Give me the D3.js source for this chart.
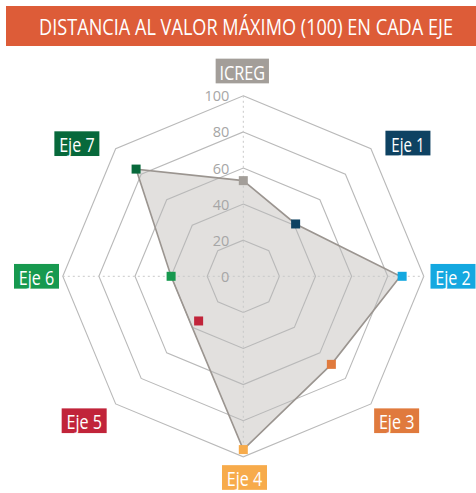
<!DOCTYPE html>
<html>
<head>
<meta charset="utf-8">
<script src="https://cdn.jsdelivr.net/npm/d3@7"></script>
<style>
  html, body { margin: 0; padding: 0; background: #fff; }
  svg { display: block; }
</style>
</head>
<body>
<svg id="chart" width="476" height="493"></svg>
<script>
// Axes of the radar, clockwise from the top
const axes = ["ICREG", "Eje 1", "Eje 2", "Eje 3", "Eje 4", "Eje 5", "Eje 6", "Eje 7"];
// Marker value on each axis
const scores = [53, 41, 88, 69, 96, 35, 40, 84];
// Vertices of the shaded area
const outline = [53, 41, 87, 69, 96, 40, 40, 84];
// Radial grid levels and their tick labels
const gridLevels = [20, 40, 60, 80, 100];
const tickLabels = [0, 20, 40, 60, 80, 100];
// Colour of each axis label and marker
const axisColors = ["#a39e99", "#0e4262", "#14a8e0", "#e07a3d", "#f7ab4b", "#c1243a", "#17994f", "#07693b"];

const title = "DISTANCIA AL VALOR MÁXIMO (100) EN CADA EJE";

const svg = d3.select("#chart");
const cx = 243.3, cy = 276.3, R = 180.5;
const font = "'Liberation Sans Narrow', 'Open Sans', 'DejaVu Sans', sans-serif";

const r = d3.scaleLinear().domain([0, 100]).range([0, R]);
const angle = d3.scalePoint().domain(axes).range([0, 2 * Math.PI * 7 / 8]);
const pt = (name, v) => {
  const a = angle(name) - Math.PI / 2;
  return [cx + r(v) * Math.cos(a), cy + r(v) * Math.sin(a)];
};

// Horizontally squeeze a text to a target width, keeping its height
function condense(sel, targetWidth) {
  const w = sel.node().getComputedTextLength();
  const k = w > 0 ? targetWidth / w : 1;
  const x = +sel.attr("x");
  sel.attr("transform", `translate(${x * (1 - k)},0) scale(${k},1)`);
}

// Title bar
svg.append("rect").attr("x", 6).attr("y", 6).attr("width", 470).attr("height", 40)
  .attr("fill", "#dd5c38");
const t = svg.append("text").attr("x", 246).attr("y", 26)
  .attr("text-anchor", "middle").attr("dominant-baseline", "central")
  .attr("font-family", font).attr("font-size", 22).attr("fill", "#fff")
  .text(title);
condense(t, 414);

// Shaded area
const line = d3.line().curve(d3.curveLinearClosed);
const areaPts = axes.map((a, i) => pt(a, outline[i]));
svg.append("path").attr("d", line(areaPts)).attr("fill", "#e2e0de").attr("stroke", "none");

// Grid polygons
svg.append("g").selectAll("path").data(gridLevels).join("path")
  .attr("d", lv => line(axes.map(a => pt(a, lv))))
  .attr("fill", "none").attr("stroke", "#b9b9b9").attr("stroke-width", 1.1);

// Dotted vertical and horizontal spokes
const spoke = (a, b) => {
  const p = pt(a, 100), q = pt(b, 100);
  svg.append("line").attr("x1", p[0]).attr("y1", p[1]).attr("x2", q[0]).attr("y2", q[1])
    .attr("stroke", "#c9c9c9").attr("stroke-width", 1).attr("stroke-dasharray", "2,3");
};
spoke("ICREG", "Eje 4");
spoke("Eje 6", "Eje 2");

// Area outline
svg.append("path").attr("d", line(areaPts)).attr("fill", "none")
  .attr("stroke", "#9b9590").attr("stroke-width", 1.6).attr("stroke-linejoin", "miter");

// Tick labels along the top axis
svg.append("g").selectAll("text").data(tickLabels).join("text")
  .attr("x", cx - 14).attr("y", d => cy - r(d))
  .attr("text-anchor", "end").attr("dominant-baseline", "central")
  .attr("font-family", "'Open Sans', sans-serif").attr("font-size", 14.5)
  .attr("fill", "#a6a6a6").text(d => d);

// Markers
const ms = 9;
svg.append("g").selectAll("rect").data(axes).join("rect")
  .attr("x", (a, i) => pt(a, scores[i])[0] - ms / 2)
  .attr("y", (a, i) => pt(a, scores[i])[1] - ms / 2)
  .attr("width", ms).attr("height", ms)
  .attr("fill", (a, i) => axisColors[i]);

// Axis labels in coloured boxes, placed just outside the outer ring
const nudge = [[-1, -24.8], [37, -5.6], [29.2, 0], [25.7, 16.8], [1.2, 20.7], [-31.5, 16.8], [-26.3, 0], [-38.8, -5]];
const boxH = 24.7;
axes.forEach((a, i) => {
  const p = pt(a, 100);
  const c = [p[0] + nudge[i][0], p[1] + nudge[i][1]];
  const g = svg.append("g").attr("transform", `translate(${c[0]},${c[1]})`);
  const w = a === "ICREG" ? 53.3 : 45;
  const tw = a === "ICREG" ? 45.7 : (a === "Eje 1" ? 33.3 : 35.5);
  g.append("rect").attr("x", -w / 2).attr("y", -boxH / 2).attr("width", w).attr("height", boxH)
    .attr("fill", axisColors[i]);
  const lbl = g.append("text").attr("x", 0).attr("y", 1).attr("text-anchor", "middle")
    .attr("dominant-baseline", "central")
    .attr("font-family", font).attr("font-size", 19.5).attr("fill", "#fff")
    .text(a);
  condense(lbl, tw);
});
</script>
</body>
</html>
